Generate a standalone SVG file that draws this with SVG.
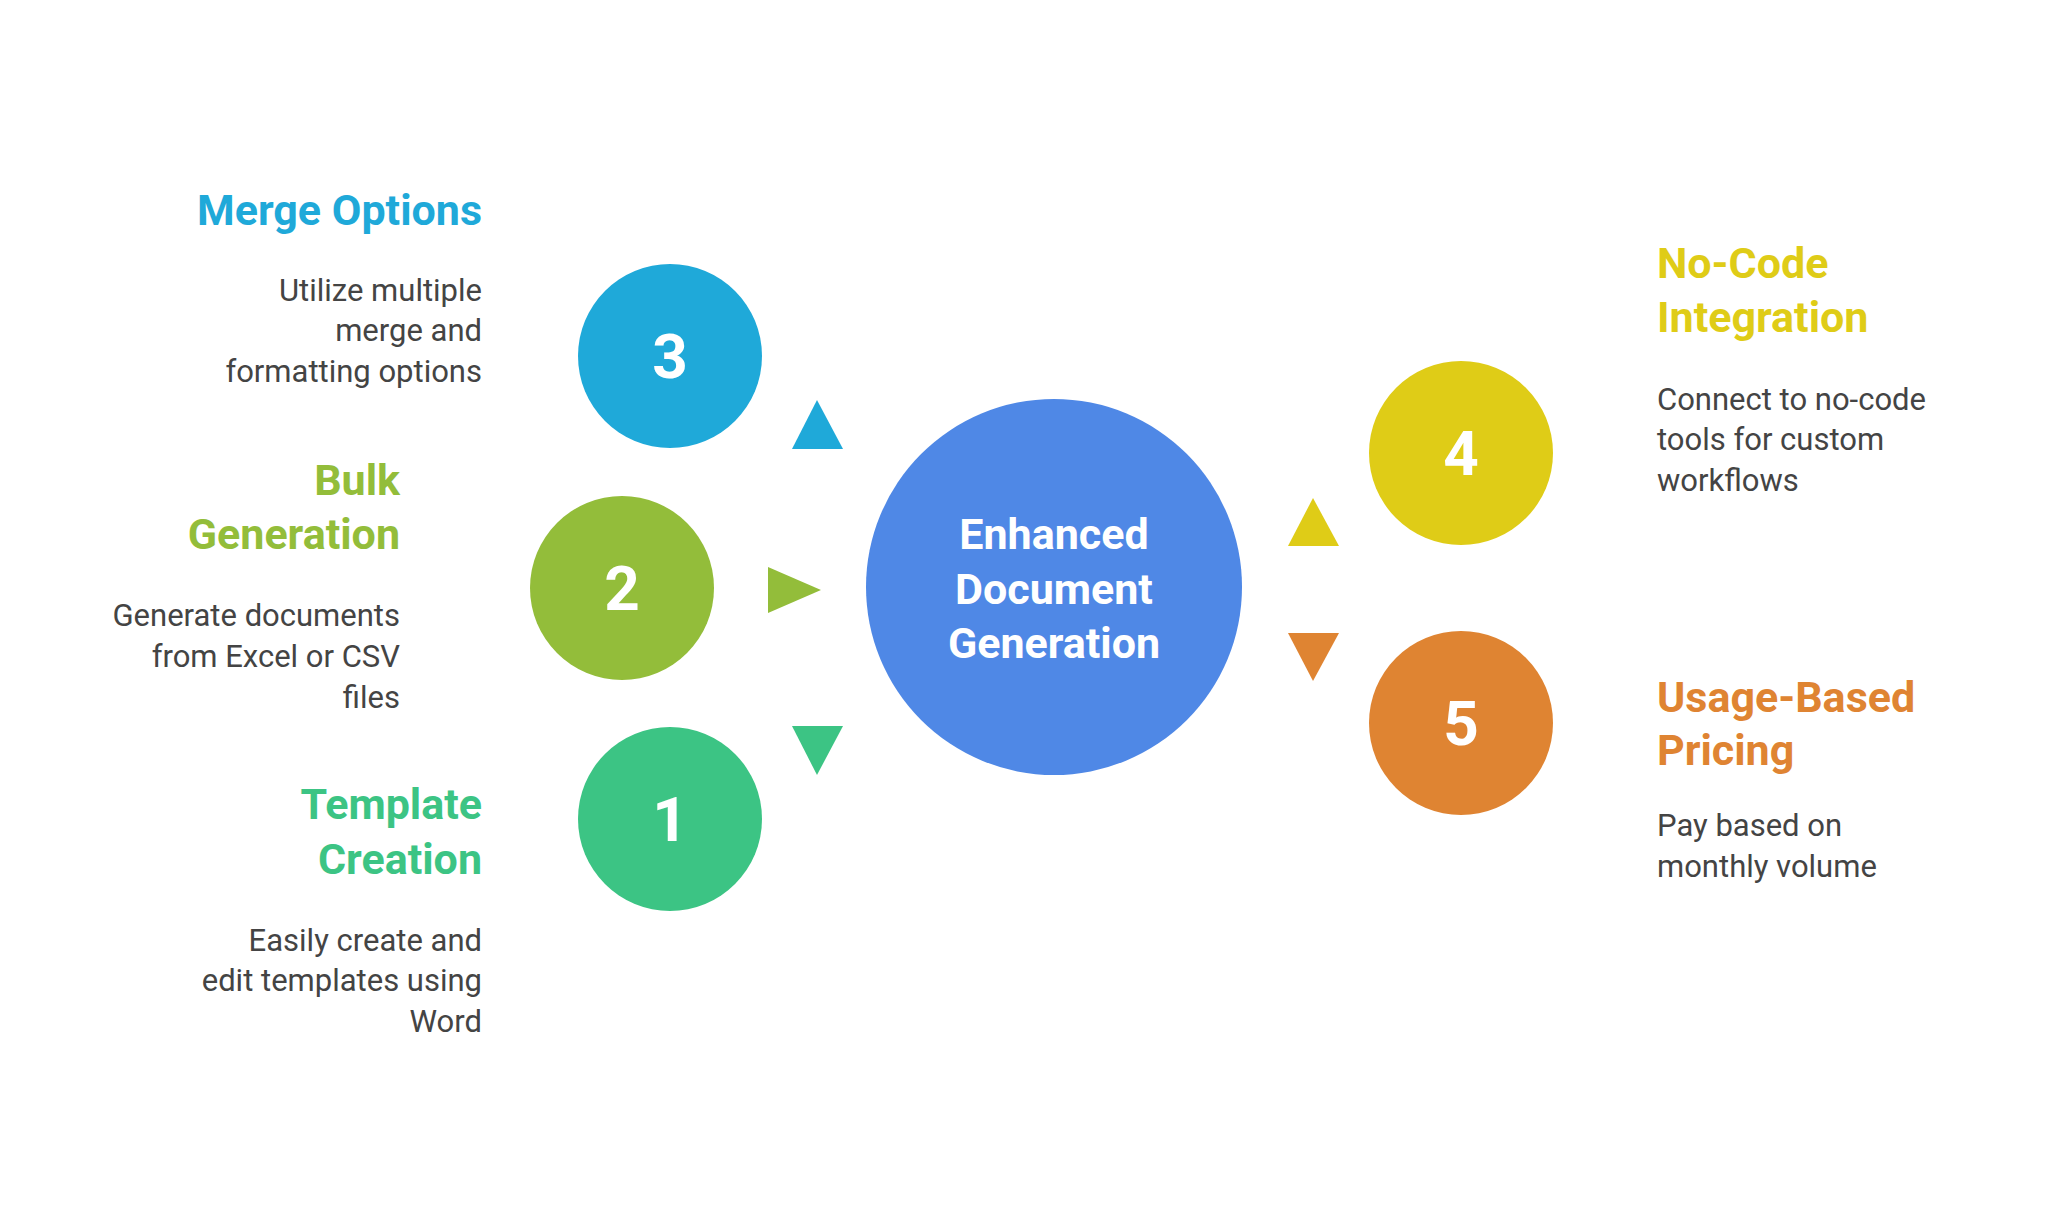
<svg xmlns="http://www.w3.org/2000/svg" width="2048" height="1212" viewBox="0 0 2048 1212">
<style>
text{font-family:Roboto,"Liberation Sans",sans-serif}
.t{font-weight:700;font-size:43px}
.d{font-size:31px;fill:#444}
.n{font-weight:700;font-size:62px;fill:#fff;text-anchor:middle}
.c{font-weight:700;font-size:43px;fill:#fff;text-anchor:middle}
.r{text-anchor:end}
</style>
<rect width="2048" height="1212" fill="#fff"/>
<g id="connectors">
<polygon points="817,400 843,449 792,449" fill="#1FA9D9"/>
<polygon points="768,567 821,590 768,613 Q775,590 768,567" fill="#93BD3A"/>
<polygon points="792,726 843,726 817,775" fill="#3CC484"/>
<polygon points="1313,498 1339,546 1288,546" fill="#DFCC17"/>
<polygon points="1288,633 1339,633 1313,681" fill="#DF8432"/>
</g>
<g id="center">
<circle cx="1054" cy="587" r="188" fill="#4F88E6"/>
<text class="c" x="1054" y="549">Enhanced</text>
<text class="c" x="1054" y="604">Document</text>
<text class="c" x="1054" y="658">Generation</text>
</g>
<g id="node3">
<circle cx="670" cy="356" r="92" fill="#1FA9D9"/>
<text class="n" x="670" y="378">3</text>
<text class="t r" x="482" y="225" fill="#1FA9D9">Merge Options</text>
<text class="d r" x="482" y="301">Utilize multiple</text>
<text class="d r" x="482" y="341">merge and</text>
<text class="d r" x="482" y="382">formatting options</text>
</g>
<g id="node2">
<circle cx="622" cy="588" r="92" fill="#93BD3A"/>
<text class="n" x="622" y="610">2</text>
<text class="t r" x="400" y="495" fill="#93BD3A">Bulk</text>
<text class="t r" x="400" y="549" fill="#93BD3A">Generation</text>
<text class="d r" x="400" y="626">Generate documents</text>
<text class="d r" x="400" y="667">from Excel or CSV</text>
<text class="d r" x="400" y="708">files</text>
</g>
<g id="node1">
<circle cx="670" cy="819" r="92" fill="#3CC484"/>
<text class="n" x="670" y="841">1</text>
<text class="t r" x="482" y="819" fill="#3CC484">Template</text>
<text class="t r" x="482" y="874" fill="#3CC484">Creation</text>
<text class="d r" x="482" y="951">Easily create and</text>
<text class="d r" x="482" y="991">edit templates using</text>
<text class="d r" x="482" y="1032">Word</text>
</g>
<g id="node4">
<circle cx="1461" cy="453" r="92" fill="#DFCC17"/>
<text class="n" x="1461" y="475">4</text>
<text class="t" x="1657" y="278" fill="#DFCC17">No-Code</text>
<text class="t" x="1657" y="332" fill="#DFCC17">Integration</text>
<text class="d" x="1657" y="410">Connect to no-code</text>
<text class="d" x="1657" y="450">tools for custom</text>
<text class="d" x="1657" y="491">workflows</text>
</g>
<g id="node5">
<circle cx="1461" cy="723" r="92" fill="#DF8432"/>
<text class="n" x="1461" y="745">5</text>
<text class="t" x="1657" y="712" fill="#DF8432">Usage-Based</text>
<text class="t" x="1657" y="765" fill="#DF8432">Pricing</text>
<text class="d" x="1657" y="836">Pay based on</text>
<text class="d" x="1657" y="877">monthly volume</text>
</g>
</svg>
